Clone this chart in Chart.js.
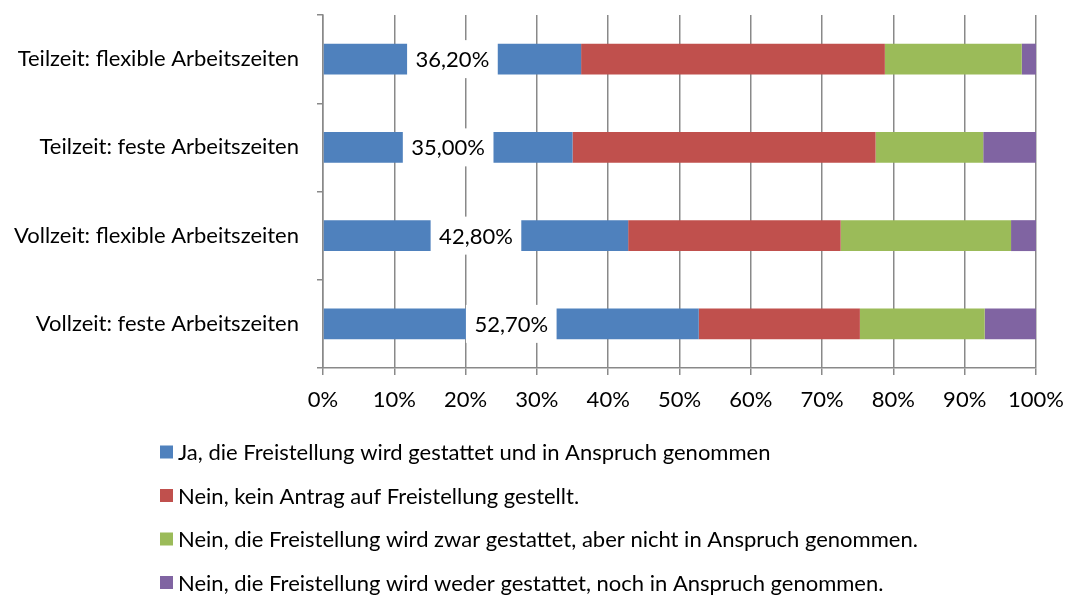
<!DOCTYPE html>
<html><head><meta charset="utf-8">
<script src="https://cdn.jsdelivr.net/npm/chart.js@4.4.1/dist/chart.umd.min.js"></script>
<style>html,body{margin:0;padding:0;background:#fff;} #wrap{width:1065px;height:598px;position:relative;}</style>
</head><body><div id="wrap"><canvas id="c"></canvas></div>
<script>
const categories = ['Teilzeit: flexible Arbeitszeiten', 'Teilzeit: feste Arbeitszeiten', 'Vollzeit: flexible Arbeitszeiten', 'Vollzeit: feste Arbeitszeiten'];
const seriesNames = [
  'Ja, die Freistellung wird gestattet und in Anspruch genommen',
  'Nein, kein Antrag auf Freistellung gestellt.',
  'Nein, die Freistellung wird zwar gestattet, aber nicht in Anspruch genommen.',
  'Nein, die Freistellung wird weder gestattet, noch in Anspruch genommen.'
];
const jaGenommen = [36.2, 35.0, 42.8, 52.7];
const keinAntrag = [42.6, 42.5, 29.8, 22.6];
const gestattetNicht = [19.2, 15.1, 23.9, 17.5];
const wederNoch = [2.0, 7.4, 3.5, 7.2];
const xTicks = [0, 10, 20, 30, 40, 50, 60, 70, 80, 90, 100];
const colors = ['#4F81BD', '#C0504D', '#9BBB59', '#8064A2'];

const FONT = 'Lato';
const FS = 22;
const GRID = '#898989';

const labelPlugin = {
  id: 'blueLabels',
  afterDatasetsDraw(chart) {
    const ctx = chart.ctx;
    const meta = chart.getDatasetMeta(0);
    ctx.save();
    ctx.font = FS + 'px ' + FONT;
    ctx.textAlign = 'center';
    ctx.textBaseline = 'middle';
    meta.data.forEach((bar, i) => {
      const cx = (bar.x + bar.base) / 2;
      const cy = bar.y;
      const txt = jaGenommen[i].toFixed(2).replace('.', ',') + '%';
      const w = ctx.measureText(txt).width + 17;
      const h = 38;
      ctx.fillStyle = '#fff';
      ctx.fillRect(cx - w / 2, cy - h / 2, w, h);
      ctx.fillStyle = '#000';
      ctx.fillText(txt, cx, cy + 1);
    });
    ctx.restore();
  }
};

const legendPlugin = {
  id: 'vLegend',
  afterDraw(chart) {
    const ctx = chart.ctx;
    ctx.save();
    ctx.font = FS + 'px ' + FONT;
    ctx.textBaseline = 'middle';
    ctx.textAlign = 'left';
    const x0 = 160, y0 = 452, dy = 43.5, box = 13;
    chart.data.datasets.forEach((ds, i) => {
      const y = y0 + i * dy;
      ctx.fillStyle = ds.backgroundColor;
      ctx.fillRect(x0, y - box / 2, box, box);
      ctx.fillStyle = '#000';
      ctx.fillText(ds.label, x0 + box + 5, y + 1);
    });
    ctx.restore();
  }
};

new Chart(document.getElementById('c'), {
  type: 'bar',
  data: {
    labels: categories,
    datasets: [jaGenommen, keinAntrag, gestattetNicht, wederNoch].map((d, i) => ({
      label: seriesNames[i],
      data: d,
      backgroundColor: colors[i],
      borderWidth: 0,
      barPercentage: 0.35,
      categoryPercentage: 1
    }))
  },
  options: {
    indexAxis: 'y',
    responsive: true,
    maintainAspectRatio: false,
    animation: false,
    layout: { padding: { left: 0, right: 29, top: 15, bottom: 0 } },
    plugins: { legend: { display: false }, tooltip: { enabled: false } },
    scales: {
      x: {
        stacked: true,
        min: 0, max: 100,
        afterBuildTicks(scale) { scale.ticks = xTicks.map(v => ({ value: v })); },
        afterFit(scale) { scale.height = 230; scale.paddingLeft = 0; scale.paddingRight = 0; scale.paddingTop = 0; scale.paddingBottom = 0; },
        ticks: { callback: v => v + '%', color: '#000', font: { family: FONT, size: FS }, padding: 12, maxRotation: 0 },
        grid: { color: GRID, lineWidth: 1.5, tickLength: 7, drawTicks: true },
        border: { display: true, color: GRID, width: 1.5 }
      },
      y: {
        stacked: true,
        afterFit(scale) { scale.width = 323; scale.paddingLeft = 0; scale.paddingRight = 0; scale.paddingTop = 0; scale.paddingBottom = 0; },
        ticks: { color: '#000', font: { family: FONT, size: FS }, padding: 18 },
        grid: { display: true, drawOnChartArea: false, drawTicks: true, tickLength: 6, offset: true, color: GRID, lineWidth: 1.5 },
        border: { display: true, color: GRID, width: 1.5 }
      }
    }
  },
  plugins: [labelPlugin, legendPlugin]
});
</script>
</body></html>
